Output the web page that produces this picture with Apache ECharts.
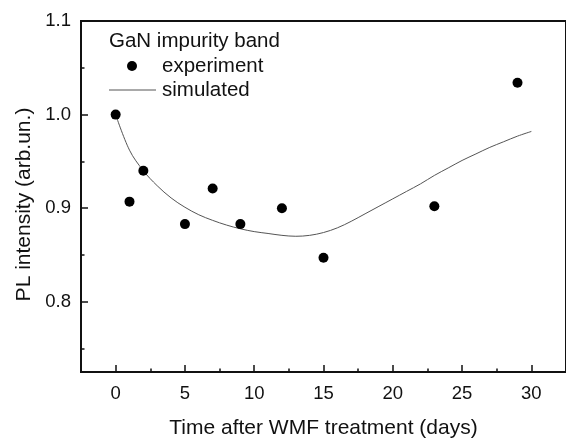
<!DOCTYPE html>
<html>
<head>
<meta charset="utf-8">
<script src="https://cdn.jsdelivr.net/npm/echarts@6/dist/echarts.min.js"></script>
<style>
html,body{margin:0;padding:0;background:#fff;}
#c{width:566px;height:444px;}
</style>
</head>
<body>
<div id="c"></div>
<script>
// Data
const expDays = [0, 1, 2, 5, 7, 9, 12, 15, 23, 29];
const expValues = [1.000, 0.907, 0.940, 0.883, 0.921, 0.883, 0.900, 0.847, 0.902, 1.034];
const simDays = [0,1,2,3,4,5,6,7,8,9,10,11,12,13,14,15,16,17,18,19,20,21,22,23,24,25,26,27,28,29,30];
const simValues = [1.000,0.962,0.940,0.924,0.911,0.901,0.893,0.887,0.882,0.878,0.875,0.873,0.871,0.870,0.871,0.874,0.879,0.886,0.894,0.902,0.910,0.918,0.926,0.935,0.943,0.951,0.958,0.965,0.971,0.977,0.982];
const xTickLabels = [0, 5, 10, 15, 20, 25, 30];
const xMinorTicks = [2.5, 7.5, 12.5, 17.5, 22.5, 27.5];
const yTickLabels = [0.8, 0.9, 1.0, 1.1];
const yMinorTicks = [0.75, 0.85, 0.95, 1.05];
const legendTitle = 'GaN impurity band';
const seriesNames = ['experiment', 'simulated'];
const xTitle = 'Time after WMF treatment (days)';
const yTitle = 'PL intensity (arb.un.)';

const FONT = 'Liberation Sans, Arial, sans-serif';
const TXT = '#111';
const LINE_COLOR = '#555';
const chart = echarts.init(document.getElementById('c'), null, {renderer: 'canvas'});

const gridBox = {left: 81, top: 21, width: 491, height: 358};

chart.setOption({
  animation: false,
  backgroundColor: '#fff',
  grid: Object.assign({show: true, borderColor: '#111', borderWidth: 2, backgroundColor: 'transparent'}, gridBox),
  graphic: [
    {type: 'text', x: 109, y: 41,
     style: {text: legendTitle, font: '20.5px ' + FONT, fill: TXT, verticalAlign: 'middle'}},
    {type: 'circle', shape: {cx: 132, cy: 66, r: 5}, style: {fill: '#000'}},
    {type: 'text', x: 162, y: 66,
     style: {text: seriesNames[0], font: '20.5px ' + FONT, fill: TXT, verticalAlign: 'middle'}},
    {type: 'line', shape: {x1: 109, y1: 90, x2: 156, y2: 90}, style: {stroke: LINE_COLOR, lineWidth: 1}},
    {type: 'text', x: 162, y: 90,
     style: {text: seriesNames[1], font: '20.5px ' + FONT, fill: TXT, verticalAlign: 'middle'}}
  ],
  xAxis: [{
    type: 'value', min: -2.5, max: 32.5,
    name: xTitle, nameLocation: 'middle', nameGap: 46,
    nameTextStyle: {fontFamily: FONT, fontSize: 21, color: TXT},
    axisLine: {show: true, onZero: false, lineStyle: {color: '#111', width: 2}},
    axisTick: {show: true, inside: true, length: 7, customValues: xTickLabels, lineStyle: {color: '#111', width: 1.5}},
    axisLabel: {customValues: xTickLabels, fontFamily: FONT, fontSize: 18.5, color: TXT, margin: 12},
    splitLine: {show: false}
  }, {
    type: 'value', min: -2.5, max: 32.5, position: 'bottom',
    axisLine: {show: false, onZero: false},
    axisTick: {show: true, inside: true, length: 3.5, customValues: xMinorTicks, lineStyle: {color: '#111', width: 1.5}},
    axisLabel: {show: false},
    splitLine: {show: false}
  }],
  yAxis: [{
    type: 'value', min: 0.725, max: 1.1,
    name: yTitle, nameLocation: 'middle', nameGap: 37,
    nameTextStyle: {fontFamily: FONT, fontSize: 21, color: TXT, padding: [0, 16, 0, 0]},
    axisLine: {show: true, onZero: false, lineStyle: {color: '#111', width: 2}},
    axisTick: {show: true, inside: true, length: 7, customValues: yTickLabels, lineStyle: {color: '#111', width: 1.5}},
    axisLabel: {customValues: yTickLabels, fontFamily: FONT, fontSize: 18.5, color: TXT, margin: 10,
      formatter: v => v.toFixed(1)},
    splitLine: {show: false}
  }, {
    type: 'value', min: 0.725, max: 1.1, position: 'left',
    axisLine: {show: false, onZero: false},
    axisTick: {show: true, inside: true, length: 3.5, customValues: yMinorTicks, lineStyle: {color: '#111', width: 1.5}},
    axisLabel: {show: false},
    splitLine: {show: false}
  }],
  series: [{
    name: seriesNames[1], type: 'line', symbol: 'none', smooth: 0.35,
    lineStyle: {color: LINE_COLOR, width: 1},
    itemStyle: {color: LINE_COLOR},
    data: simDays.map((d, i) => [d, simValues[i]]),
    z: 2
  }, {
    name: seriesNames[0], type: 'scatter', symbol: 'circle', symbolSize: 10,
    itemStyle: {color: '#000', opacity: 1},
    data: expDays.map((d, i) => [d, expValues[i]]),
    z: 3
  }]
});
</script>
</body>
</html>
